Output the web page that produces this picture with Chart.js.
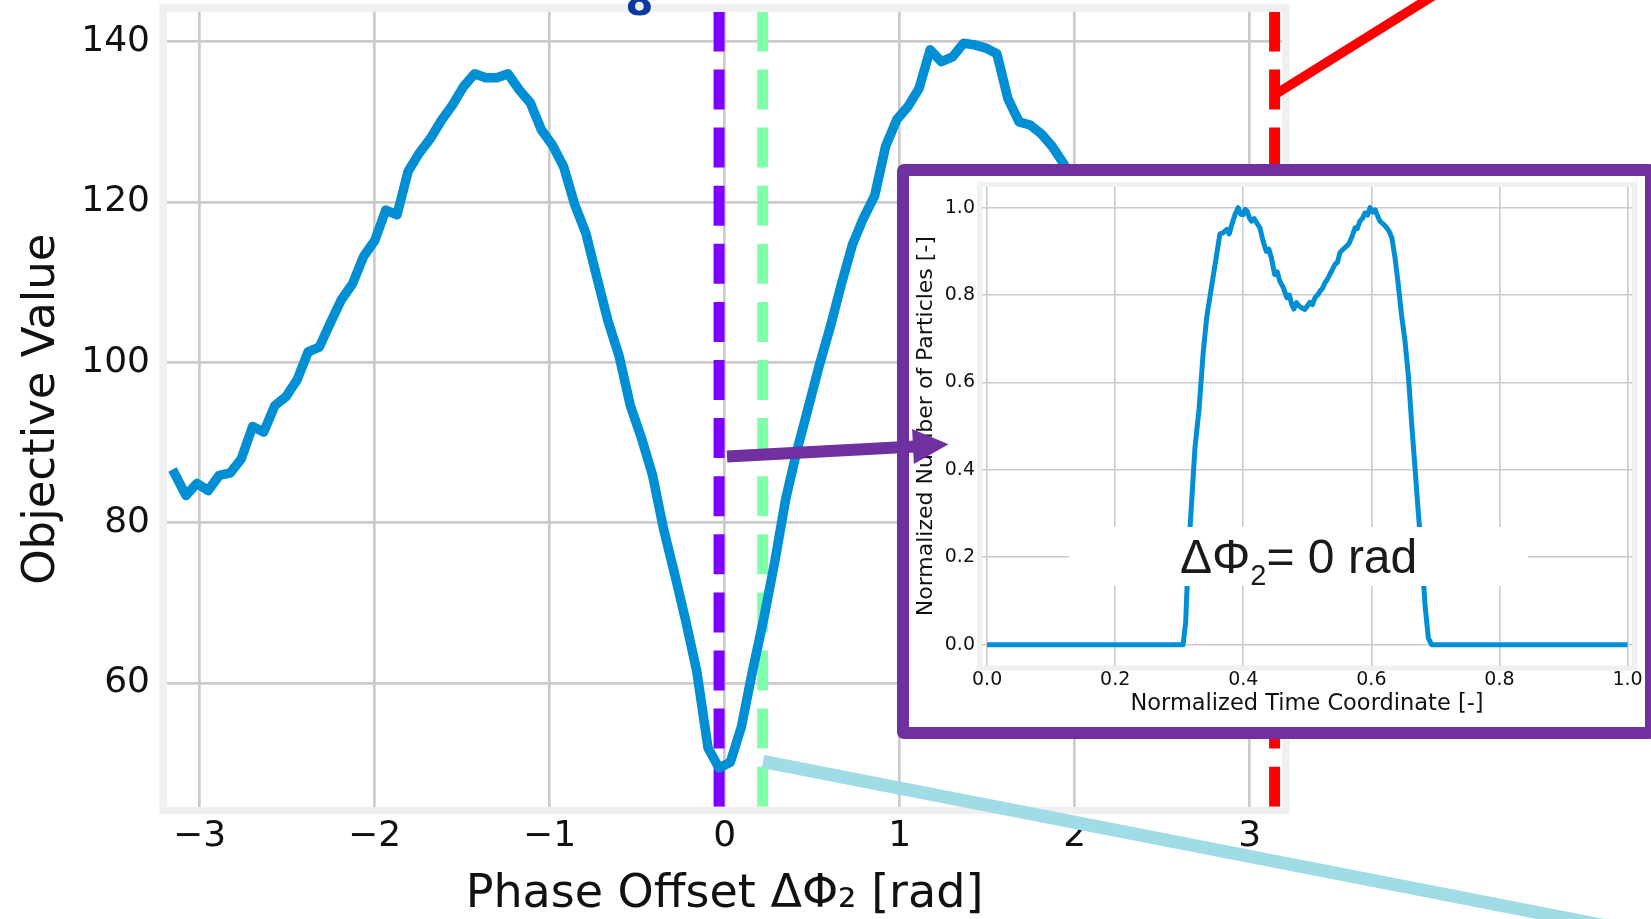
<!DOCTYPE html>
<html>
<head>
<meta charset="utf-8">
<title>Objective Value vs Phase Offset</title>
<script src="https://cdn.jsdelivr.net/npm/chart.js@4.4.1/dist/chart.umd.min.js"></script>
<style>
  html, body { margin: 0; padding: 0; background: #fff; }
  #stage { position: relative; width: 1651px; height: 919px; overflow: hidden; }
  #main { position: absolute; left: 0; top: 0; }
  #inset-box {
    position: absolute; left: 897px; top: 164px; width: 760px; height: 575px;
    box-sizing: border-box; border: 12px solid #7030A0; border-radius: 7px; background: #fff;
  }
  #inset { display: block; }
  #overlay { position: absolute; left: 0; top: 0; pointer-events: none; }
</style>
</head>
<body>
<div id="stage">
  <canvas id="main" width="1651" height="919"></canvas>
  <div id="inset-box"><canvas id="inset" width="736" height="551"></canvas></div>
  <canvas id="overlay" width="1651" height="919"></canvas>
</div>
<script>
/* ── Main scan: objective vs phase offset ───────────────────── */
const phaseOffset = [
  -3.142, -3.078, -3.015, -2.951, -2.888, -2.824, -2.761, -2.697, -2.634, -2.570,
  -2.507, -2.443, -2.380, -2.316, -2.253, -2.190, -2.126, -2.063, -1.999, -1.936,
  -1.872, -1.809, -1.745, -1.682, -1.618, -1.555, -1.492, -1.428, -1.365, -1.301,
  -1.238, -1.174, -1.111, -1.047, -0.984, -0.920, -0.857, -0.793, -0.730, -0.666,
  -0.603, -0.539, -0.476, -0.413, -0.349, -0.286, -0.222, -0.159, -0.095, -0.032,
   0.032,  0.095,  0.159,  0.222,  0.286,  0.349,  0.413,  0.476,  0.539,  0.603,
   0.666,  0.730,  0.793,  0.857,  0.920,  0.984,  1.047,  1.111,  1.174,  1.238,
   1.301,  1.365,  1.428,  1.492,  1.555,  1.618,  1.682,  1.745,  1.809,  1.872,
   1.936,  1.999,  2.063,  2.126,  2.190,  2.253,  2.316,  2.380,  2.443,  2.507,
   2.570,  2.634,  2.697,  2.761,  2.824,  2.888,  2.951,  3.015,  3.078,  3.142
];
const objectiveValue = [
   86.1,  83.4,  84.9,  84.0,  85.9,  86.2,  88.0,  92.0,  91.3,  94.6,
   95.7,  97.8, 101.3, 101.9, 104.9, 107.8, 109.8, 113.2, 115.2, 119.0,
  118.4, 123.8, 126.1, 127.9, 130.2, 132.1, 134.4, 136.0, 135.5, 135.5,
  136.0, 134.0, 132.4, 129.0, 127.1, 124.4, 119.7, 116.1, 110.6, 105.1,
  100.8,  94.6,  90.6,  86.0,  79.2,  73.6,  67.7,  61.4,  51.9,  49.4,
   50.1,  54.5,  61.5,  67.9,  75.1,  83.0,  89.0,  94.2,  99.5, 104.4,
  109.7, 114.7, 118.0, 120.8, 127.0, 130.3, 131.9, 134.2, 139.0, 137.5,
  138.1, 139.8, 139.6, 139.2, 138.5, 132.9, 130.0, 129.6, 128.5, 126.9,
  124.8, 122.3, 119.5, 116.8, 114.0, 111.2, 108.6, 106.1, 103.8, 101.5,
   99.4,  97.4,  95.5,  93.8,  92.2,  90.8,  89.5,  88.3,  87.2,  86.1
];
// marked phase offsets (vertical dashed lines)
const markerPhases = [-0.032, 0.217, 3.1416];
const markerColors = ['#7F00FF', '#80FFAA', '#FF0000'];

const xTicks = [-3, -2, -1, 0, 1, 2, 3];
const xTickLabels = ['\u22123', '\u22122', '\u22121', '0', '1', '2', '3'];
const yTicks = [60, 80, 100, 120, 140];

/* ── Inset: bunch profile at ΔΦ2 = 0 ───────────────────────── */
const timeCoord = [
  0.000, 0.306, 0.310, 0.314, 0.317, 0.3245, 0.331, 0.3375, 0.343, 0.3505,
  0.356, 0.3635, 0.368, 0.374, 0.378, 0.382, 0.387, 0.392, 0.396, 0.400,
  0.403, 0.406, 0.410, 0.413, 0.417, 0.421, 0.426, 0.431, 0.436, 0.440,
  0.444, 0.449, 0.453, 0.457, 0.4625, 0.468, 0.472, 0.4755, 0.479, 0.483,
  0.487, 0.491, 0.496, 0.500, 0.504, 0.508, 0.512, 0.516, 0.520, 0.524,
  0.5275, 0.531, 0.535, 0.539, 0.543, 0.547, 0.551, 0.556, 0.5615, 0.565,
  0.569, 0.5745, 0.578, 0.582, 0.586, 0.590, 0.594, 0.598, 0.602, 0.606,
  0.610, 0.6135, 0.619, 0.624, 0.628, 0.632, 0.637, 0.642, 0.647, 0.6525,
  0.658, 0.663, 0.668, 0.673, 0.679, 0.684, 0.689, 0.694, 1.000
];
const particleCount = [
  0.000, 0.000, 0.050, 0.200, 0.270, 0.450, 0.540, 0.670, 0.750, 0.820,
  0.870, 0.940, 0.942, 0.950, 0.940, 0.961, 0.984, 1.000, 0.985, 0.984,
  0.996, 0.992, 0.975, 0.969, 0.975, 0.965, 0.954, 0.923, 0.900, 0.905,
  0.885, 0.847, 0.853, 0.832, 0.817, 0.794, 0.800, 0.779, 0.768, 0.783,
  0.775, 0.771, 0.767, 0.775, 0.783, 0.778, 0.794, 0.800, 0.809, 0.816,
  0.828, 0.835, 0.847, 0.858, 0.870, 0.875, 0.897, 0.905, 0.912, 0.918,
  0.931, 0.954, 0.952, 0.969, 0.975, 0.988, 0.983, 1.000, 0.990, 0.995,
  0.980, 0.969, 0.962, 0.954, 0.945, 0.931, 0.885, 0.824, 0.756, 0.695,
  0.612, 0.505, 0.407, 0.308, 0.200, 0.087, 0.015, 0.000, 0.000
];
const insetTicks = [0, 0.2, 0.4, 0.6, 0.8, 1.0];
const insetTickLabels = ['0.0', '0.2', '0.4', '0.6', '0.8', '1.0'];

const LINE_BLUE = '#008FD5';
const GRID = '#cbcbcb';
const TEXT = '#111';
const X_MIN = -3.186, X_MAX = 3.184, Y_MIN = 44.57, Y_MAX = 143.74;

// fixed axis box sizes, no extra room for overhanging labels
function fixBox(size) {
  return s => {
    if (s.isHorizontal()) s.height = size; else s.width = size;
    s.paddingTop = 0; s.paddingBottom = 0; s.paddingLeft = 0; s.paddingRight = 0;
  };
}

// light grey box around the plot area (matplotlib spines)
const framePlugin = {
  id: 'frame',
  beforeDraw(chart, args, opts) {
    const { ctx, chartArea: a } = chart;
    const h = opts.width / 2;
    ctx.save();
    ctx.strokeStyle = opts.color;
    ctx.lineWidth = opts.width;
    ctx.strokeRect(a.left - h, a.top - h, a.right - a.left + 2 * h, a.bottom - a.top + 2 * h);
    ctx.restore();
  }
};

function markerLine(x, color) {
  return {
    data: [{ x, y: Y_MIN }, { x, y: Y_MAX }],
    borderColor: color,
    borderWidth: 11,
    borderDash: [40, 18.1],
    borderCapStyle: 'butt',
    pointRadius: 0,
    fill: false
  };
}

new Chart(document.getElementById('main'), {
  type: 'line',
  data: {
    datasets: [
      {
        data: phaseOffset.map((x, i) => ({ x, y: objectiveValue[i] })),
        borderColor: LINE_BLUE,
        borderWidth: 9.5,
        borderJoinStyle: 'round',
        borderCapStyle: 'square',
        pointRadius: 0,
        tension: 0,
        fill: false
      },
      ...markerPhases.map((x, i) => markerLine(x, markerColors[i]))
    ]
  },
  options: {
    responsive: false,
    animation: false,
    layout: { padding: { top: 11.7, right: 369, left: 0, bottom: 0 } },
    plugins: {
      legend: { display: false },
      tooltip: { enabled: false },
      frame: { color: '#f0f0f0', width: 7.6 }
    },
    scales: {
      x: {
        type: 'linear',
        min: X_MIN, max: X_MAX,
        afterBuildTicks: s => { s.ticks = xTicks.map(v => ({ value: v })); },
        afterFit: fixBox(112.3),
        ticks: {
          autoSkip: false, maxRotation: 0,
          padding: 8.7,
          color: TEXT,
          font: { family: 'DejaVu Sans', size: 36 },
          callback: (v, i) => xTickLabels[i]
        },
        grid: { color: GRID, lineWidth: 2.7, drawTicks: false },
        border: { display: false },
        title: {
          display: true,
          text: 'Phase Offset \u0394\u03A6\u2082 [rad]',
          color: TEXT,
          font: { family: 'DejaVu Sans', size: 46 },
          padding: { top: 0, bottom: -4 }
        }
      },
      y: {
        min: Y_MIN, max: Y_MAX,
        afterBuildTicks: s => { s.ticks = yTicks.map(v => ({ value: v })); },
        afterFit: fixBox(167),
        ticks: {
          padding: 17,
          color: TEXT,
          font: { family: 'DejaVu Sans', size: 36 },
          callback: (v, i) => String(yTicks[i])
        },
        grid: { color: GRID, lineWidth: 2.7, drawTicks: false },
        border: { display: false },
        title: {
          display: true,
          text: 'Objective Value',
          color: TEXT,
          font: { family: 'DejaVu Sans', size: 45 },
          padding: { top: 15, bottom: 0 }
        }
      }
    }
  },
  plugins: [framePlugin]
});

// white label box with ΔΦ2 = 0 rad, drawn over the inset plot
const phaseLabel = {
  id: 'phaseLabel',
  afterDraw(chart) {
    const ctx = chart.ctx;
    ctx.save();
    ctx.fillStyle = '#fff';
    ctx.fillRect(160, 351, 459, 59);
    ctx.fillStyle = '#1a1a1a';
    ctx.textBaseline = 'alphabetic';
    ctx.font = '48px "Liberation Sans", Arial, sans-serif';
    let x = 271;
    ctx.fillText('\u0394\u03A6', x, 397);
    x += ctx.measureText('\u0394\u03A6').width;
    ctx.font = '29px "Liberation Sans", Arial, sans-serif';
    ctx.fillText('2', x, 409);
    x += ctx.measureText('2').width;
    ctx.font = '48px "Liberation Sans", Arial, sans-serif';
    ctx.fillText('= 0 rad', x, 397);
    ctx.restore();
  }
};

new Chart(document.getElementById('inset'), {
  type: 'line',
  data: {
    datasets: [{
      data: timeCoord.map((x, i) => ({ x, y: particleCount[i] })),
      borderColor: LINE_BLUE,
      borderWidth: 5,
      borderJoinStyle: 'round',
      pointRadius: 0,
      tension: 0,
      fill: false
    }]
  },
  options: {
    responsive: false,
    animation: false,
    layout: { padding: { top: 10.7, right: 13, left: 0, bottom: 0 } },
    plugins: {
      legend: { display: false },
      tooltip: { enabled: false },
      frame: { color: '#f0f0f0', width: 5 }
    },
    scales: {
      x: {
        type: 'linear',
        min: -0.008, max: 1.007,
        afterBuildTicks: s => { s.ticks = insetTicks.map(v => ({ value: v })); },
        afterFit: fixBox(61.4),
        ticks: {
          autoSkip: false, maxRotation: 0,
          padding: 3.5,
          color: TEXT,
          font: { family: 'DejaVu Sans', size: 19 },
          callback: (v, i) => insetTickLabels[i]
        },
        grid: { color: GRID, lineWidth: 1.6, drawTicks: false },
        border: { display: false },
        title: {
          display: true,
          text: 'Normalized Time Coordinate [-]',
          color: TEXT,
          font: { family: 'DejaVu Sans', size: 22.5 },
          padding: { top: 0, bottom: 9 }
        }
      },
      y: {
        min: -0.048, max: 1.048,
        afterBuildTicks: s => { s.ticks = insetTicks.map(v => ({ value: v })); },
        afterFit: fixBox(73),
        ticks: {
          padding: 7,
          color: TEXT,
          font: { family: 'DejaVu Sans', size: 19 },
          callback: (v, i) => insetTickLabels[i]
        },
        grid: { color: GRID, lineWidth: 1.6, drawTicks: false },
        border: { display: false },
        title: {
          display: true,
          text: 'Normalized Number of Particles [-]',
          color: TEXT,
          font: { family: 'DejaVu Sans', size: 22 },
          padding: { top: 3.8, bottom: 0 }
        }
      }
    }
  },
  plugins: [framePlugin, phaseLabel]
});

/* ── Pointers drawn over everything ─────────────────────────── */
(function drawOverlay() {
  const ctx = document.getElementById('overlay').getContext('2d');

  // purple arrow from the optimum into the inset
  ctx.strokeStyle = '#7030A0';
  ctx.fillStyle = '#7030A0';
  ctx.lineWidth = 12;
  ctx.lineCap = 'butt';
  ctx.beginPath();
  ctx.moveTo(727, 456.5);
  ctx.lineTo(915, 446.5);
  ctx.stroke();
  ctx.beginPath();
  ctx.moveTo(948.5, 444.3);
  ctx.lineTo(912.1, 429.1);
  ctx.lineTo(913.9, 464.1);
  ctx.closePath();
  ctx.fill();

  // red pointer at the top right
  ctx.strokeStyle = '#FF0000';
  ctx.lineWidth = 9.5;
  ctx.beginPath();
  ctx.moveTo(1277.5, 93);
  ctx.lineTo(1445, -11.5);
  ctx.stroke();

  // light blue pointer at the bottom right
  ctx.strokeStyle = '#A0DCE6';
  ctx.lineWidth = 13;
  ctx.beginPath();
  ctx.moveTo(763, 761.5);
  ctx.lineTo(1660, 936.4);
  ctx.stroke();

  // bottom of a clipped label above the figure
  ctx.fillStyle = '#0B3A9E';
  ctx.font = 'bold 40px "DejaVu Sans"';
  ctx.textAlign = 'center';
  ctx.textBaseline = 'alphabetic';
  ctx.fillText('8', 639.5, 15);
})();
</script>
</body>
</html>
